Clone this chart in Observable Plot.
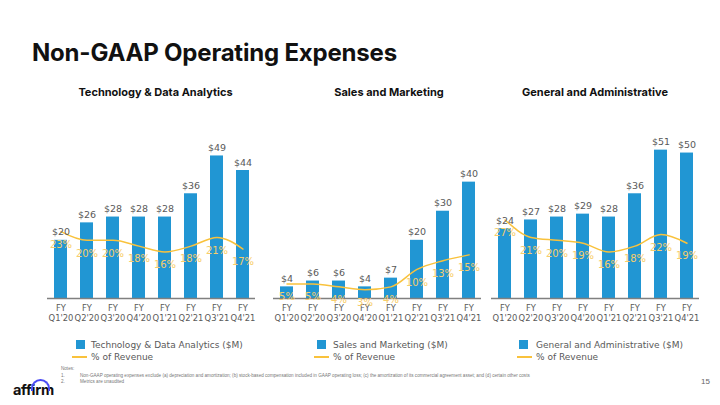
<!DOCTYPE html>
<html>
<head>
<meta charset="utf-8">
<script src="https://cdn.jsdelivr.net/npm/d3@7"></script>
<script src="https://cdn.jsdelivr.net/npm/@observablehq/plot@0.6"></script>
<style>
  html, body { margin: 0; padding: 0; background: #fff; }
  #slide { position: relative; width: 720px; height: 405px; overflow: hidden; background: #fff; font-family: "DejaVu Sans", sans-serif; }
  .abs { position: absolute; white-space: nowrap; }
  #title { left: 32px; top: 38px; font-family: Inter, "Open Sans", sans-serif; font-weight: 700; font-size: 24px; color: #111; letter-spacing: -0.2px; }
  .sub { top: 85px; font-family: Inter, "Open Sans", sans-serif; font-weight: 700; font-size: 11px; color: #111; transform: translateX(-50%); }
  .leg { font-size: 9px; color: #595959; line-height: 12px; }
  .sq { position: absolute; width: 9px; height: 9px; background: #2196d3; }
  .ln { position: absolute; height: 2px; background: #f9c23c; }
  .notes { font-family: "Liberation Sans", sans-serif; font-size: 4.6px; color: #777; }
  #page { left: 701px; top: 377px; font-family: "Liberation Sans", sans-serif; font-size: 8px; color: #666; }
  #logo { left: 13px; top: 381px; font-family: Inter, sans-serif; font-weight: 700; font-size: 14.5px; color: #111; letter-spacing: -0.3px; }
  #arc { left: 31px; top: 379px; width: 19px; height: 12px; border: 2px solid #4a4af4; border-bottom: none; border-radius: 11px 11px 0 0; box-sizing: border-box; }
  .panel { position: absolute; top: 118px; }
</style>
</head>
<body>
<div id="slide">
  <div class="abs" id="title">Non-GAAP Operating Expenses</div>
</div>
<script>
const quarters = ["Q1'20", "Q2'20", "Q3'20", "Q4'20", "Q1'21", "Q2'21", "Q3'21", "Q4'21"];

const techValues = [20, 26, 28, 28, 28, 36, 49, 44];
const techPct = [23, 20, 20, 18, 16, 18, 21, 17];

const salesValues = [4, 6, 6, 4, 7, 20, 30, 40];
const salesPct = [5, 5, 4, 3, 4, 10, 13, 15];

const gaValues = [24, 27, 28, 29, 28, 36, 51, 50];
const gaPct = [27, 21, 20, 19, 16, 18, 22, 19];

const panelTitles = ["Technology & Data Analytics", "Sales and Marketing", "General and Administrative"];
const legendLabels = ["Technology & Data Analytics ($M)", "Sales and Marketing ($M)", "General and Administrative ($M)"];
const lineLabel = "% of Revenue";

const notes = [
  "Notes:",
  "Non-GAAP operating expenses exclude (a) depreciation and amortization; (b) stock-based compensation included in GAAP operating loss; (c) the amortization of its commercial agreement asset; and (d) certain other costs",
  "Metrics are unaudited"
];
const pageNumber = "15";

const BLUE = "#2196d3";
const LINE = "#f9c23c";
const PCTTXT = "#f7cd6a";
const GRAY = "#595959";

const slide = document.getElementById("slide");

function panel(values, pct, left) {
  const data = quarters.map((q, i) => ({q, v: values[i], p: pct[i]}));
  const chart = Plot.plot({
    width: 223,
    height: 210,
    marginLeft: 10,
    marginRight: 5,
    marginTop: 20,
    marginBottom: 30,
    style: {fontFamily: "DejaVu Sans, sans-serif", fontSize: "9px", color: GRAY, background: "transparent"},
    x: {type: "band", domain: quarters, paddingInner: 0.5, paddingOuter: 0.25, label: null},
    y: {domain: [0, 55], axis: null},
    marks: [
      Plot.barY(data, {x: "q", y: "v", fill: BLUE}),
      Plot.ruleY([0], {stroke: "#808080", strokeWidth: 1.5}),
      Plot.axisX({tickSize: 0, tickPadding: 6, tickFormat: d => "FY\n" + d, lineHeight: 1.15, fill: GRAY, fontSize: 8.4, label: null}),
      Plot.line(data, {x: "q", y: "p", stroke: LINE, strokeWidth: 1.5, curve: "monotone-x"}),
      Plot.text(data, {x: "q", y: "v", text: d => "$" + d.v, lineAnchor: "bottom", dy: -5, fill: GRAY, fontSize: 9.5}),
      Plot.text(data, {x: "q", y: "p", text: d => d.p + "%", dy: 13, fill: PCTTXT, fontSize: 10})
    ]
  });
  const wrap = document.createElement("div");
  wrap.className = "panel";
  wrap.style.left = left + "px";
  wrap.appendChild(chart);
  slide.appendChild(wrap);
}

panel(techValues, techPct, 37);
panel(salesValues, salesPct, 263);
panel(gaValues, gaPct, 480.5);

// subtitles
const subCenters = [155.5, 389, 595];
panelTitles.forEach((t, i) => {
  const d = document.createElement("div");
  d.className = "abs sub";
  d.style.left = subCenters[i] + "px";
  d.textContent = t;
  slide.appendChild(d);
});

// legends
const legSq = [76, 317, 519];
const legLine = [72, 314, 516.5];
const legText = [91, 333, 536];
legendLabels.forEach((t, i) => {
  const s = document.createElement("div");
  s.className = "sq"; s.style.left = legSq[i] + "px"; s.style.top = "340px";
  slide.appendChild(s);
  const l = document.createElement("div");
  l.className = "ln"; l.style.left = legLine[i] + "px"; l.style.top = "356px"; l.style.width = "15px";
  slide.appendChild(l);
  const a = document.createElement("div");
  a.className = "abs leg"; a.style.left = legText[i] + "px"; a.style.top = "339px"; a.textContent = t;
  slide.appendChild(a);
  const b = document.createElement("div");
  b.className = "abs leg"; b.style.left = legText[i] + "px"; b.style.top = "351px"; b.textContent = lineLabel;
  slide.appendChild(b);
});

// notes
function note(txt, x, y) {
  const d = document.createElement("div");
  d.className = "abs notes"; d.style.left = x + "px"; d.style.top = y + "px"; d.textContent = txt;
  slide.appendChild(d);
}
note(notes[0], 61, 366);
note("1.", 61, 373); note(notes[1], 80, 373);
note("2.", 61, 379); note(notes[2], 80, 379);

const pg = document.createElement("div");
pg.className = "abs"; pg.id = "page"; pg.textContent = pageNumber;
slide.appendChild(pg);

const logo = document.createElement("div");
logo.className = "abs"; logo.id = "logo"; logo.textContent = "affirm";
slide.appendChild(logo);
const arc = document.createElement("div");
arc.className = "abs"; arc.id = "arc";
slide.appendChild(arc);
</script>
</body>
</html>
